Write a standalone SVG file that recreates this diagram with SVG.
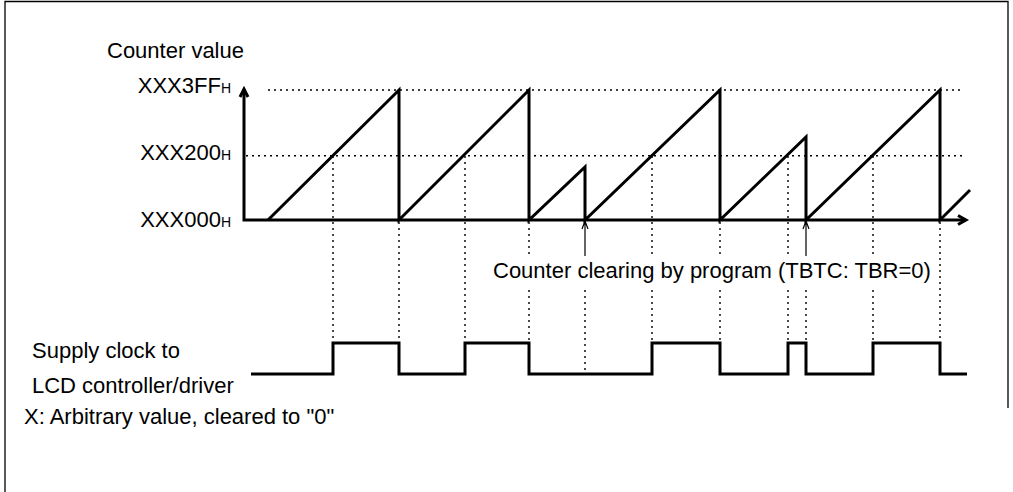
<svg xmlns="http://www.w3.org/2000/svg" width="1013" height="492" viewBox="0 0 1013 492">
<style>
text{font-family:"Liberation Sans",Arial,sans-serif;font-size:22px;fill:#000}
.sub{font-size:14px}
.thick{fill:none;stroke:#000;stroke-width:3;stroke-linejoin:miter}
.dot{fill:none;stroke:#000;stroke-width:1.4;stroke-dasharray:2 4}
.thin{fill:none;stroke:#000;stroke-width:1.2}
</style>
<rect width="1013" height="492" fill="#fff"/>
<g id="frame">
<path d="M5,492 V1.5 H1008 V408" fill="none" stroke="#000" stroke-width="1.3"/>
</g>
<g id="labels">
<text x="107" y="58">Counter value</text>
<text x="231" y="93" text-anchor="end">XXX3FF<tspan class="sub">H</tspan></text>
<text x="231" y="160" text-anchor="end">XXX200<tspan class="sub">H</tspan></text>
<text x="231" y="227" text-anchor="end">XXX000<tspan class="sub">H</tspan></text>
<text x="493" y="278">Counter clearing by program (TBTC: TBR=0)</text>
<text x="32" y="358">Supply clock to</text>
<text x="32" y="393">LCD controller/driver</text>
<text x="24" y="424">X: Arbitrary value, cleared to "0"</text>
</g>
<g id="connectors">
<path class="dot" d="M268,90 H960 M246,155.7 H962"/>
<path class="dot" d="M333,156 V343 M399,222 V343 M465,156 V343 M529,222 V256 M529,290 V343 M585,290 V374 M652,156 V256 M652,290 V343 M720,222 V256 M720,290 V343 M788,156 V256 M788,290 V343 M806,290 V343 M873,156 V256 M873,290 V343 M940,222 V343"/>
<path class="thin" d="M585,221 V256 M582,229 L585,221 L588,229 M806,221 V256 M803,229 L806,221 L809,229"/>
</g>
<g id="axes">
<path class="thick" d="M244,89 V220 H966"/>
<path class="thick" d="M240,97 L244,89 L248,97"/>
<path class="thick" d="M958,215.5 L966,220 L958,224.5"/>
</g>
<g id="counter">
<path class="thick" d="M268,220 L399,90 L399,220 L529,90 L529,220 L585,167 L585,220 L720,90 L720,220 L806,137 L806,220 L940,90 L940,220 L970,190"/>
</g>
<g id="clock">
<path class="thick" d="M251,374 H333 V343 H399 V374 H465 V343 H529 V374 H652 V343 H720 V374 H788 V343 H806 V374 H873 V343 H940 V374 H967"/>
</g>
</svg>
